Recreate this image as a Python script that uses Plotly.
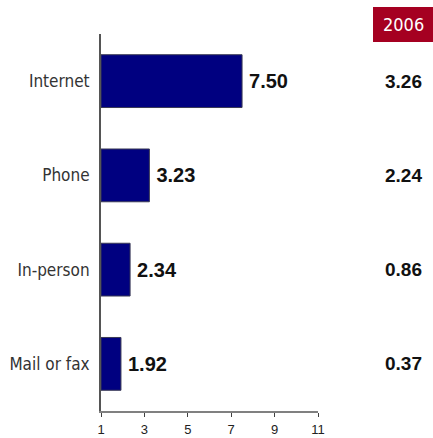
import plotly.graph_objects as go

channels = ["Internet", "Phone", "In-person", "Mail or fax"]
values_now = [7.50, 3.23, 2.34, 1.92]
values_2006 = [3.26, 2.24, 0.86, 0.37]
x_ticks = [1, 3, 5, 7, 9, 11]
header = "2006"

narrow = "DejaVu Sans Condensed, Arial Narrow, sans-serif"
regular = "Liberation Sans, Arial, sans-serif"

fig = go.Figure()
fig.add_trace(go.Bar(
    y=channels,
    x=[v - 1 for v in values_now],
    base=1,
    orientation="h",
    marker=dict(color="#000080", line=dict(color="#3a3a55", width=1)),
    text=[f"{v:.2f}" for v in values_now],
    texttemplate="\u2009%{text}",
    textposition="outside",
    textfont=dict(family=regular, size=20, color="#111111", weight="bold"),
    cliponaxis=False,
    hoverinfo="skip",
))

# Comparison column for 2006
for ch, v in zip(channels, values_2006):
    fig.add_annotation(
        x=1.393, xref="paper", y=ch, yref="y",
        text=f"<b>{v:.2f}</b>", showarrow=False,
        font=dict(family=regular, size=19, color="#111111"),
        xanchor="center", yanchor="middle",
    )

fig.add_shape(
    type="rect", xref="paper", yref="paper",
    x0=1.2535, x1=1.53, y0=0.9788, y1=1.0716,
    fillcolor="#A50021", line=dict(width=0), layer="above",
)
fig.add_annotation(
    x=(1.2535 + 1.53) / 2, xref="paper", y=(0.9788 + 1.0716) / 2, yref="paper",
    text=header, showarrow=False,
    font=dict(family=narrow, size=18, color="white"),
    xanchor="center", yanchor="middle",
)

fig.update_layout(
    width=433, height=438,
    margin=dict(l=101, r=115, t=34, b=27, autoexpand=False),
    paper_bgcolor="white", plot_bgcolor="white",
    showlegend=False,
    bargap=0.44,
    xaxis=dict(
        range=[1, 11], tickvals=x_ticks, ticktext=[str(t) for t in x_ticks],
        showgrid=False, zeroline=False, automargin=False,
        showline=True, linecolor="#808080", linewidth=2,
        ticks="outside", ticklen=4, tickcolor="#404040", tickwidth=1,
        ticklabelstandoff=1,
        tickfont=dict(family=regular, size=13, color="#222222"),
    ),
    yaxis=dict(
        autorange="reversed", showgrid=False, zeroline=False, automargin=False,
        showline=True, linecolor="#555555", linewidth=2,
        ticks="", ticklabelstandoff=6,
        tickfont=dict(family=narrow, size=17, color="#333333"),
    ),
)

fig.write_html("out.html")
